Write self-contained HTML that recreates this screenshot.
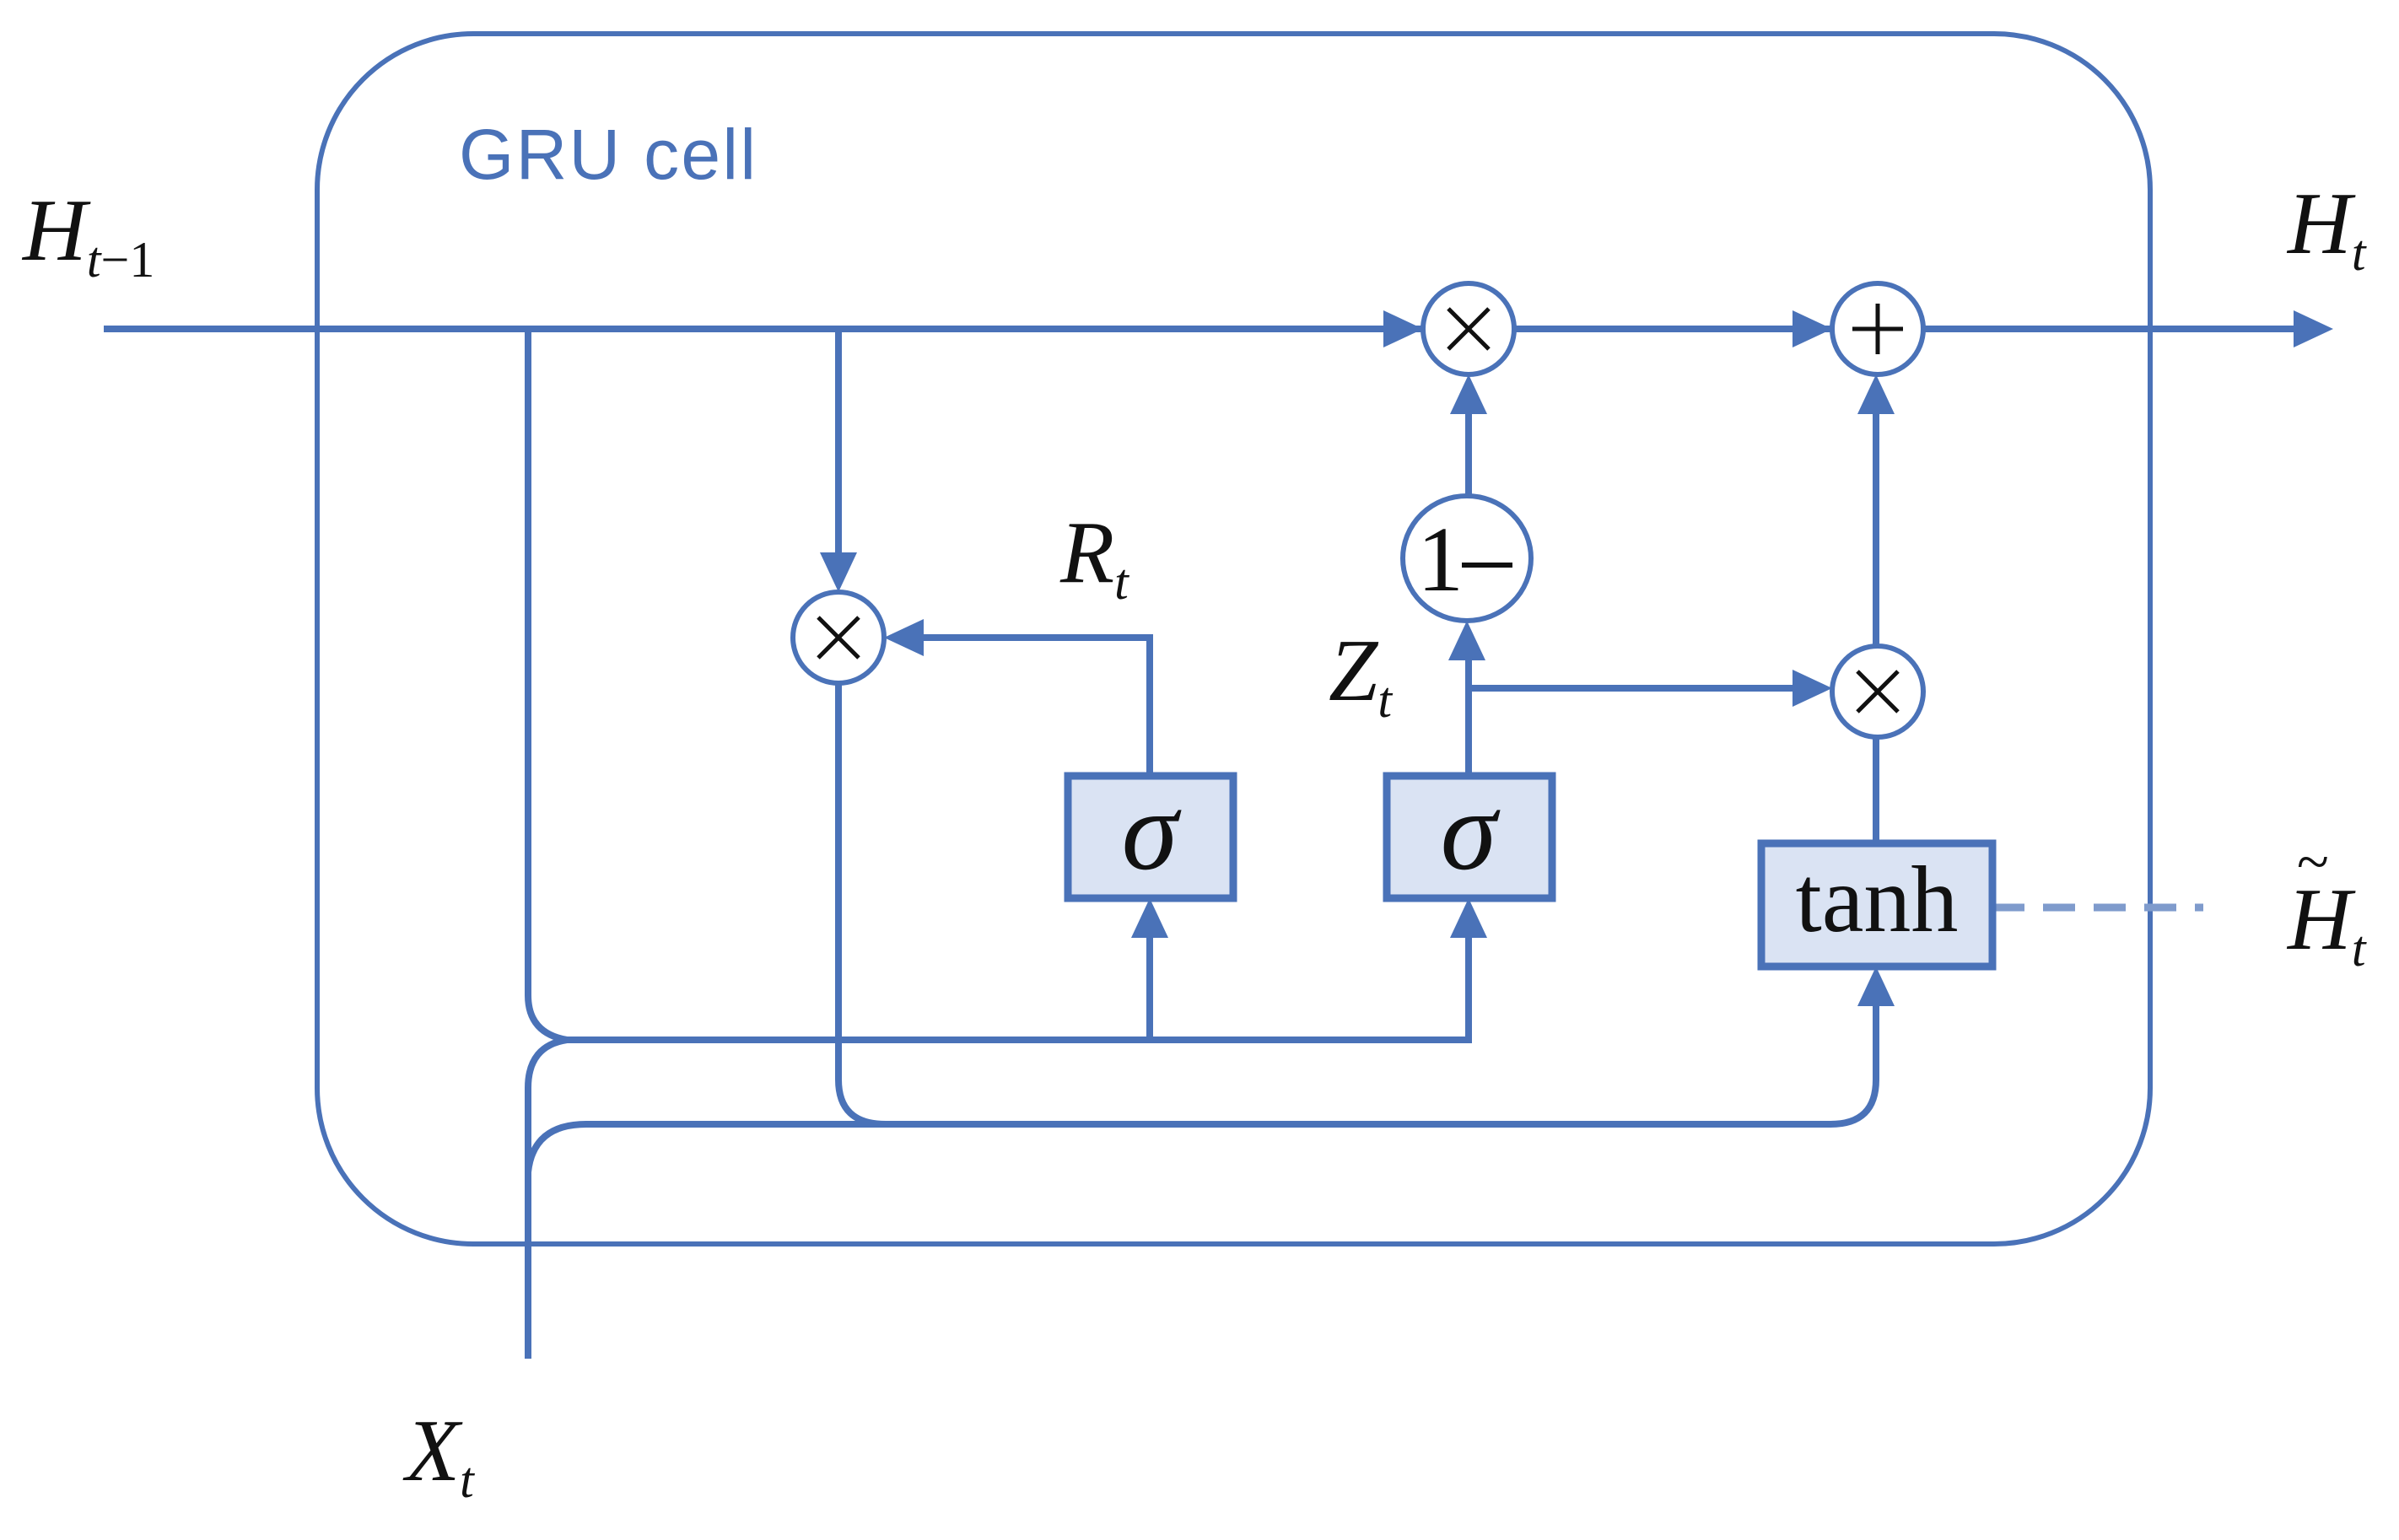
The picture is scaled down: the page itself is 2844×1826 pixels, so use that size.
<!DOCTYPE html>
<html><head><meta charset="utf-8"><style>
html,body{margin:0;padding:0;background:#fff;}
svg{display:block}
.t{font-family:"Liberation Serif",serif;font-style:italic;fill:#111}
</style></head><body>
<svg width="2844" height="1826" viewBox="0 0 2844 1826" xmlns="http://www.w3.org/2000/svg">
<g fill="none" stroke="#4a72b8" stroke-width="8">
<rect x="376" y="40" width="2173" height="1435" rx="185" ry="185" stroke-width="6"/>
<line x1="123" y1="390" x2="1690" y2="390"/>
<line x1="1795" y1="390" x2="2175" y2="390"/>
<line x1="2280" y1="390" x2="2735" y2="390"/>
<path d="M626 390 V1180 Q626 1225 672 1233"/>
<path d="M626 1611 V1290 Q626 1240 672 1233"/>
<line x1="672" y1="1233" x2="1745" y2="1233"/>
<path d="M626 1390 Q632 1333 695 1333 H2170 Q2224 1333 2224 1280 V1185"/>
<line x1="1741" y1="1237" x2="1741" y2="1100"/>
<line x1="1363" y1="1233" x2="1363" y2="1100"/>
<line x1="994" y1="390" x2="994" y2="670"/>
<path d="M994 810 V1280 Q994 1333 1050 1333"/>
<path d="M1363 918 V756 H1080"/>
<line x1="1741" y1="918" x2="1741" y2="770"/>
<line x1="1741" y1="816" x2="2140" y2="816"/>
<line x1="1741" y1="588" x2="1741" y2="480"/>
<line x1="2224" y1="998" x2="2224" y2="874"/>
<line x1="2224" y1="766" x2="2224" y2="480"/>
<line x1="2362" y1="1076" x2="2612" y2="1076" stroke="#7f9bcc" stroke-width="9" stroke-dasharray="38,22"/>
<circle cx="1741" cy="390" r="54" fill="#fff" stroke-width="6"/>
<circle cx="2226" cy="390" r="54" fill="#fff" stroke-width="6"/>
<circle cx="994" cy="756" r="54" fill="#fff" stroke-width="6"/>
<circle cx="2226" cy="820" r="54" fill="#fff" stroke-width="6"/>
<ellipse cx="1739" cy="662" rx="76" ry="74" fill="#fff" stroke-width="6"/>
<rect x="1266" y="920" width="196" height="145" fill="#dae3f3" stroke-width="9"/>
<rect x="1644" y="920" width="196" height="145" fill="#dae3f3" stroke-width="9"/>
<rect x="2088" y="1000" width="274" height="146" fill="#dae3f3" stroke-width="9"/>
</g>
<g fill="#4a72b8">
<polygon points="1687,390 1640,368 1640,412"/>
<polygon points="2172,390 2125,368 2125,412"/>
<polygon points="2766,390 2719,368 2719,412"/>
<polygon points="994,702 972,655 1016,655"/>
<polygon points="1048,756 1095,734 1095,778"/>
<polygon points="1741,444 1719,491 1763,491"/>
<polygon points="1739,736 1717,783 1761,783"/>
<polygon points="2172,816 2125,794 2125,838"/>
<polygon points="2224,444 2202,491 2246,491"/>
<polygon points="1363,1065 1341,1112 1385,1112"/>
<polygon points="1741,1065 1719,1112 1763,1112"/>
<polygon points="2224,1146 2202,1193 2246,1193"/>
</g>
<g stroke="#111" stroke-width="5" fill="none">
<path d="M1717 366 L1765 414 M1765 366 L1717 414"/>
<path d="M970 732 L1018 780 M1018 732 L970 780"/>
<path d="M2202 796 L2250 844 M2250 796 L2202 844"/>
<path d="M2196 390 H2256 M2226 360 V420"/>
</g>
<text x="1680" y="700" font-family="Liberation Serif,serif" font-size="110" fill="#111">1</text>
<line x1="1733" y1="670" x2="1793" y2="670" stroke="#111" stroke-width="6"/>
<text x="544" y="212" font-family="Liberation Sans,sans-serif" font-size="84" fill="#4a72b8" textLength="352">GRU cell</text>
<text class="t" x="1363" y="1030" font-size="135" text-anchor="middle">σ</text>
<text class="t" x="1741" y="1030" font-size="135" text-anchor="middle">σ</text>
<text x="2225" y="1104" font-family="Liberation Serif,serif" font-size="112" fill="#111" text-anchor="middle">tanh</text>
<text class="t" x="27" y="308" font-size="105">H<tspan font-size="60" dy="20">t</tspan><tspan font-style="normal" font-size="60">−1</tspan></text>
<text class="t" x="2712" y="300" font-size="105">H<tspan font-size="60" dy="20">t</tspan></text>
<text class="t" x="2712" y="1125" font-size="105">H<tspan font-size="60" dy="20">t</tspan></text>
<text class="t" x="2722" y="1045" font-size="70" font-style="normal">~</text>
<text class="t" x="1257" y="690" font-size="105">R<tspan font-size="60" dy="20">t</tspan></text>
<text class="t" x="1575" y="830" font-size="105">Z<tspan font-size="60" dy="20">t</tspan></text>
<text class="t" x="481" y="1755" font-size="105">X<tspan font-size="60" dy="20">t</tspan></text>
</svg>
</body></html>
